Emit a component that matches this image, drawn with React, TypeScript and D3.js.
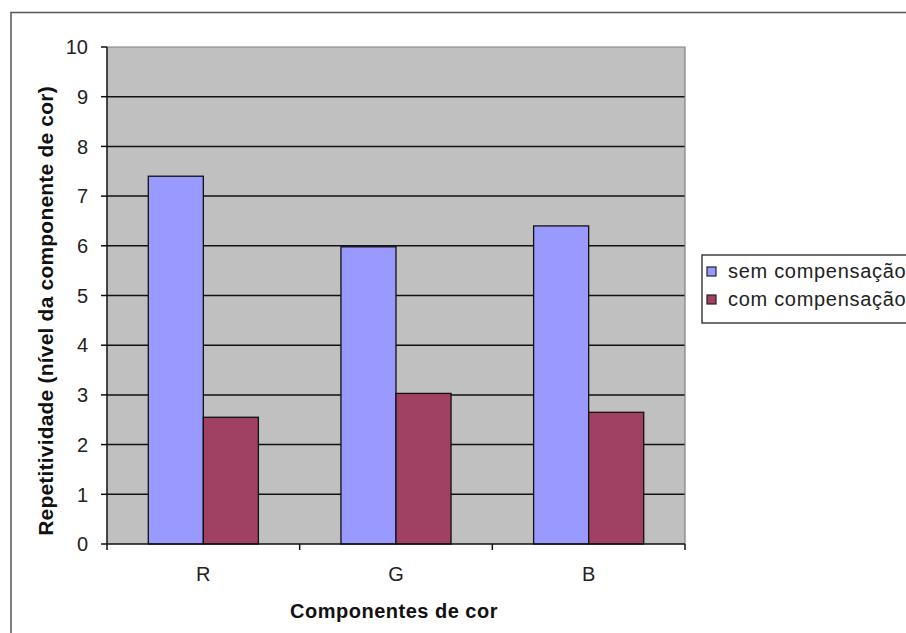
import React from "react";
import * as d3 from "d3";

const categories = ["R", "G", "B"];
const seriesNames = ["sem compensação", "com compensação"];
const semCompensacao = [7.4, 5.98, 6.4];
const comCompensacao = [2.55, 3.03, 2.65];
const yTicks = [0, 1, 2, 3, 4, 5, 6, 7, 8, 9, 10];
const seriesColors = ["#9999ff", "#a04062"];

const W = 906;
const H = 633;
const plot = { left: 107, right: 685, top: 47, bottom: 544 };
const FONT = "'Liberation Sans', Arial, sans-serif";

export default function App() {
  const x = d3
    .scaleBand<string>()
    .domain(categories)
    .range([plot.left, plot.right])
    .paddingInner(0)
    .paddingOuter(0);
  const y = d3.scaleLinear().domain([0, 10]).range([plot.bottom, plot.top]);

  const bw = x.bandwidth() / 3.5;
  const series = [semCompensacao, comCompensacao];

  const boundaries = [...categories.map((c) => x(c) as number), plot.right];

  return (
    <svg
      width={W}
      height={H}
      style={{ position: "absolute", left: 0, top: 0, background: "#fff" }}
      fontFamily={FONT}
    >
      {/* chart frame */}
      <rect x={11} y={12.5} width={W + 20} height={H + 20} fill="#fff" stroke="#555" strokeWidth={1.5} />

      {/* plot background */}
      <rect
        x={plot.left}
        y={plot.top}
        width={plot.right - plot.left}
        height={plot.bottom - plot.top}
        fill="#c0c0c0"
      />

      {/* gridlines */}
      {yTicks
        .filter((t) => t > 0 && t < 10)
        .map((t) => (
          <line
            key={t}
            x1={plot.left}
            x2={plot.right}
            y1={y(t)}
            y2={y(t)}
            stroke="#111"
            strokeWidth={1.5}
          />
        ))}

      {/* plot border (top & right) */}
      <path
        d={`M${plot.left},${plot.top}H${plot.right}V${plot.bottom}`}
        fill="none"
        stroke="#808080"
        strokeWidth={1.2}
      />

      {/* bars */}
      {categories.map((c, i) =>
        series.map((s, k) => {
          const bx = (x(c) as number) + bw * 0.75 + k * bw;
          return (
            <rect
              key={c + k}
              x={bx}
              y={y(s[i])}
              width={bw}
              height={y(0) - y(s[i])}
              fill={seriesColors[k]}
              stroke="#111"
              strokeWidth={1.3}
            />
          );
        })
      )}

      {/* y axis */}
      <line x1={plot.left} x2={plot.left} y1={plot.top} y2={plot.bottom} stroke="#111" strokeWidth={1.5} />
      {yTicks.map((t) => (
        <g key={t}>
          <line x1={plot.left - 6} x2={plot.left} y1={y(t)} y2={y(t)} stroke="#111" strokeWidth={1.5} />
          <text
            x={88}
            y={y(t)}
            dy="0.36em"
            textAnchor="end"
            fontSize={20}
            fill="#222"
          >
            {t}
          </text>
        </g>
      ))}

      {/* x axis */}
      <line x1={plot.left} x2={plot.right} y1={plot.bottom} y2={plot.bottom} stroke="#111" strokeWidth={1.5} />
      {boundaries.map((bx, i) => (
        <line key={i} x1={bx} x2={bx} y1={plot.bottom} y2={plot.bottom + 6} stroke="#111" strokeWidth={1.5} />
      ))}
      {categories.map((c) => (
        <text
          key={c}
          x={(x(c) as number) + x.bandwidth() / 2}
          y={581}
          textAnchor="middle"
          fontSize={20}
          fill="#222"
        >
          {c}
        </text>
      ))}

      {/* axis titles */}
      <text
        x={(plot.left + plot.right) / 2 - 2}
        y={618}
        textAnchor="middle"
        fontSize={20}
        letterSpacing={0.5}
        fontWeight="bold"
        fill="#111"
      >
        Componentes de cor
      </text>
      <text
        transform={`translate(53,311) rotate(-90)`}
        textAnchor="middle"
        fontSize={21}
        letterSpacing={0.2}
        fontWeight="bold"
        fill="#111"
      >
        Repetitividade (nível da componente de cor)
      </text>

      {/* legend */}
      <rect x={702} y={255} width={W} height={68} fill="#fff" stroke="#222" strokeWidth={1.3} />
      {seriesNames.map((name, k) => (
        <g key={name} transform={`translate(0, ${k * 28})`}>
          <rect x={707} y={267} width={9} height={9} fill={seriesColors[k]} stroke="#222" strokeWidth={1.2} />
          <text x={728} y={278} fontSize={20} letterSpacing={0.7} fill="#222">
            {name}
          </text>
        </g>
      ))}
    </svg>
  );
}
